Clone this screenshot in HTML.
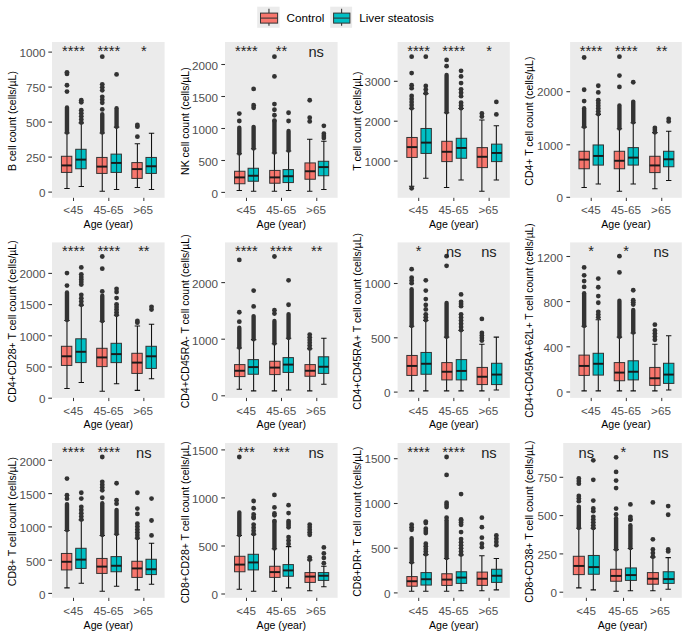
<!DOCTYPE html>
<html><head><meta charset="utf-8"><title>Lymphocyte subsets by age and liver steatosis</title>
<style>html,body{margin:0;padding:0;background:#fff}svg{display:block}</style></head>
<body>
<svg width="685" height="637" viewBox="0 0 685 637" font-family="'Liberation Sans', sans-serif">
<rect width="685" height="637" fill="#fff"/>
<g>
<rect x="257.2" y="6.7" width="22.4" height="21.1" fill="#EBEBEB"/>
<path d="M268.95 8.8V13.1M268.95 23.1V25.8" stroke="#333" stroke-width="1.07" fill="none"/>
<rect x="260.5" y="13.1" width="17.1" height="10" fill="#F8766D" stroke="#333" stroke-width="1"/>
<path d="M260.5 18.1H277.6" stroke="#333" stroke-width="1.07"/>
<text x="286.6" y="22.3" font-size="11.7" fill="#000">Control</text>
<rect x="330.2" y="6.7" width="21.9" height="21.1" fill="#EBEBEB"/>
<path d="M341.6 8.8V13.1M341.6 23.1V25.8" stroke="#333" stroke-width="1.07" fill="none"/>
<rect x="333.6" y="13.1" width="16.3" height="10" fill="#00BFC4" stroke="#333" stroke-width="1"/>
<path d="M333.6 18.1H349.9" stroke="#333" stroke-width="1.07"/>
<text x="359.2" y="22.3" font-size="11.7" fill="#000">Liver steatosis</text>
</g>
<g>
<rect x="52" y="42" width="112.6" height="155.8" fill="#EBEBEB"/>
<path d="M48.3 52.1H52" stroke="#333" stroke-width="1.07"/>
<text x="45.5" y="57.1" font-size="11.7" fill="#505050" text-anchor="end">1000</text>
<path d="M48.3 87.1H52" stroke="#333" stroke-width="1.07"/>
<text x="45.5" y="92.1" font-size="11.7" fill="#505050" text-anchor="end">750</text>
<path d="M48.3 122.1H52" stroke="#333" stroke-width="1.07"/>
<text x="45.5" y="127.1" font-size="11.7" fill="#505050" text-anchor="end">500</text>
<path d="M48.3 157.1H52" stroke="#333" stroke-width="1.07"/>
<text x="45.5" y="162.1" font-size="11.7" fill="#505050" text-anchor="end">250</text>
<path d="M48.3 192.1H52" stroke="#333" stroke-width="1.07"/>
<text x="45.5" y="197.1" font-size="11.7" fill="#505050" text-anchor="end">0</text>
<path d="M73.53 197.8V201" stroke="#333" stroke-width="1"/>
<text x="73.23" y="214.4" font-size="11.7" fill="#505050" text-anchor="middle">&lt;45</text>
<path d="M108.82 197.8V201" stroke="#333" stroke-width="1"/>
<text x="108.52" y="214.4" font-size="11.7" fill="#505050" text-anchor="middle">45-65</text>
<path d="M143.85 197.8V201" stroke="#333" stroke-width="1"/>
<text x="143.05" y="214.4" font-size="11.7" fill="#505050" text-anchor="middle">&gt;65</text>
<text x="108.3" y="228" font-size="10.6" fill="#000" text-anchor="middle">Age (year)</text>
<text transform="translate(16.2 121.1) rotate(-90)" font-size="10.5" fill="#000" text-anchor="middle">B cell count (cells/µL)</text>
<path d="M66.98 132.98V188.56M64.28 132.98H69.68M64.28 188.56H69.68" stroke="#111" stroke-width="1.07" fill="none"/>
<path d="M66.98 107.44V132.58" stroke="#333333" stroke-width="4.4" stroke-linecap="round"/>
<circle cx="66.98" cy="91.59" r="2.4" fill="#333333"/>
<circle cx="66.98" cy="85.27" r="2.4" fill="#333333"/>
<circle cx="66.98" cy="73.95" r="2.4" fill="#333333"/>
<circle cx="66.98" cy="72.29" r="2.4" fill="#333333"/>
<rect x="61.42" y="156.28" width="10.4" height="16.14" fill="#F8766D" stroke="#333" stroke-width="1"/>
<path d="M66.98 156.28V172.42" stroke="#000" stroke-opacity="0.6" stroke-width="1.07"/>
<path d="M61.42 165.43H71.82" stroke="#1a1a1a" stroke-width="1.95"/>
<path d="M81.29 122.99V186.57M78.59 122.99H83.99M78.59 186.57H83.99" stroke="#111" stroke-width="1.07" fill="none"/>
<circle cx="81.29" cy="110.14" r="2.4" fill="#333333"/>
<circle cx="81.29" cy="113.25" r="2.4" fill="#333333"/>
<circle cx="81.29" cy="116.36" r="2.4" fill="#333333"/>
<circle cx="81.29" cy="119.48" r="2.4" fill="#333333"/>
<circle cx="81.29" cy="122.59" r="2.4" fill="#333333"/>
<circle cx="81.29" cy="100.25" r="2.4" fill="#333333"/>
<circle cx="81.29" cy="102.25" r="2.4" fill="#333333"/>
<rect x="75.73" y="149.29" width="10.4" height="19.47" fill="#00BFC4" stroke="#333" stroke-width="1"/>
<path d="M81.29 149.29V168.76" stroke="#000" stroke-opacity="0.6" stroke-width="1.07"/>
<path d="M75.73 159.61H86.13" stroke="#1a1a1a" stroke-width="1.95"/>
<path d="M102.26 132.98V191.23M99.56 132.98H104.96M99.56 191.23H104.96" stroke="#111" stroke-width="1.07" fill="none"/>
<path d="M102.26 114.1V132.58" stroke="#333333" stroke-width="4.4" stroke-linecap="round"/>
<circle cx="102.26" cy="96.82" r="2.4" fill="#333333"/>
<circle cx="102.26" cy="99.83" r="2.4" fill="#333333"/>
<circle cx="102.26" cy="102.84" r="2.4" fill="#333333"/>
<circle cx="102.26" cy="84.34" r="2.4" fill="#333333"/>
<circle cx="102.26" cy="87.35" r="2.4" fill="#333333"/>
<circle cx="102.26" cy="90.36" r="2.4" fill="#333333"/>
<circle cx="102.26" cy="109.4" r="2.4" fill="#333333"/>
<circle cx="102.26" cy="56.65" r="2.4" fill="#333333"/>
<rect x="96.7" y="157.44" width="10.4" height="15.98" fill="#F8766D" stroke="#333" stroke-width="1"/>
<path d="M102.26 157.44V173.42" stroke="#000" stroke-opacity="0.6" stroke-width="1.07"/>
<path d="M96.7 166.6H107.1" stroke="#1a1a1a" stroke-width="1.95"/>
<path d="M116.57 127.15V189.56M113.87 127.15H119.27M113.87 189.56H119.27" stroke="#111" stroke-width="1.07" fill="none"/>
<path d="M116.57 108.27V126.75" stroke="#333333" stroke-width="4.4" stroke-linecap="round"/>
<circle cx="116.57" cy="74.45" r="2.4" fill="#333333"/>
<rect x="111.01" y="154.11" width="10.4" height="18.31" fill="#00BFC4" stroke="#333" stroke-width="1"/>
<path d="M116.57 154.11V172.42" stroke="#000" stroke-opacity="0.6" stroke-width="1.07"/>
<path d="M111.01 162.93H121.41" stroke="#1a1a1a" stroke-width="1.95"/>
<path d="M137.38 143.8V187.56M134.68 143.8H140.08M134.68 187.56H140.08" stroke="#111" stroke-width="1.07" fill="none"/>
<circle cx="137.38" cy="136.64" r="2.4" fill="#333333"/>
<circle cx="137.38" cy="126.65" r="2.4" fill="#333333"/>
<circle cx="137.38" cy="124.99" r="2.4" fill="#333333"/>
<rect x="131.82" y="162.6" width="10.4" height="15.81" fill="#F8766D" stroke="#333" stroke-width="1"/>
<path d="M137.38 162.6V178.41" stroke="#000" stroke-opacity="0.6" stroke-width="1.07"/>
<path d="M131.82 169.09H142.22" stroke="#1a1a1a" stroke-width="1.95"/>
<path d="M151.52 133.31V189.56M148.82 133.31H154.22M148.82 189.56H154.22" stroke="#111" stroke-width="1.07" fill="none"/>
<rect x="145.96" y="157.44" width="10.4" height="15.98" fill="#00BFC4" stroke="#333" stroke-width="1"/>
<path d="M151.52 157.44V173.42" stroke="#000" stroke-opacity="0.6" stroke-width="1.07"/>
<path d="M145.96 166.26H156.36" stroke="#1a1a1a" stroke-width="1.95"/>
<text x="73.53" y="55.9" font-size="14.67" fill="#222" text-anchor="middle">****</text>
<text x="108.82" y="55.9" font-size="14.67" fill="#222" text-anchor="middle">****</text>
<text x="143.85" y="55.9" font-size="14.67" fill="#222" text-anchor="middle">*</text>
</g>
<g>
<rect x="225" y="42" width="112.6" height="155.8" fill="#EBEBEB"/>
<path d="M221.3 64.5H225" stroke="#333" stroke-width="1.07"/>
<text x="218" y="69.8" font-size="11.7" fill="#505050" text-anchor="end">2000</text>
<path d="M221.3 96.5H225" stroke="#333" stroke-width="1.07"/>
<text x="218" y="101.8" font-size="11.7" fill="#505050" text-anchor="end">1500</text>
<path d="M221.3 128.5H225" stroke="#333" stroke-width="1.07"/>
<text x="218" y="133.8" font-size="11.7" fill="#505050" text-anchor="end">1000</text>
<path d="M221.3 160.5H225" stroke="#333" stroke-width="1.07"/>
<text x="218" y="165.8" font-size="11.7" fill="#505050" text-anchor="end">500</text>
<path d="M221.3 192.4H225" stroke="#333" stroke-width="1.07"/>
<text x="218" y="197.7" font-size="11.7" fill="#505050" text-anchor="end">0</text>
<path d="M246.47 197.8V201" stroke="#333" stroke-width="1"/>
<text x="246.17" y="214.4" font-size="11.7" fill="#505050" text-anchor="middle">&lt;45</text>
<path d="M281.5 197.8V201" stroke="#333" stroke-width="1"/>
<text x="281.2" y="214.4" font-size="11.7" fill="#505050" text-anchor="middle">45-65</text>
<path d="M316.78 197.8V201" stroke="#333" stroke-width="1"/>
<text x="315.98" y="214.4" font-size="11.7" fill="#505050" text-anchor="middle">&gt;65</text>
<text x="281.3" y="228" font-size="10.6" fill="#000" text-anchor="middle">Age (year)</text>
<text transform="translate(188.8 121.1) rotate(-90)" font-size="10.5" fill="#000" text-anchor="middle">NK cell count (cells/µL)</text>
<path d="M239.31 153.78V190.56M236.61 153.78H242.01M236.61 190.56H242.01" stroke="#111" stroke-width="1.07" fill="none"/>
<path d="M239.31 127.69V153.38" stroke="#333333" stroke-width="4.4" stroke-linecap="round"/>
<circle cx="239.31" cy="121" r="2.4" fill="#333333"/>
<circle cx="239.31" cy="113.56" r="2.4" fill="#333333"/>
<rect x="234.56" y="171.26" width="10.4" height="12.48" fill="#F8766D" stroke="#333" stroke-width="1"/>
<path d="M239.31 171.26V183.74" stroke="#000" stroke-opacity="0.6" stroke-width="1.07"/>
<path d="M234.56 177.41H244.96" stroke="#1a1a1a" stroke-width="1.95"/>
<path d="M253.62 148.79V191.23M250.92 148.79H256.32M250.92 191.23H256.32" stroke="#111" stroke-width="1.07" fill="none"/>
<path d="M253.62 126.86V148.39" stroke="#333333" stroke-width="4.4" stroke-linecap="round"/>
<circle cx="253.62" cy="105.24" r="2.4" fill="#333333"/>
<circle cx="253.62" cy="107.74" r="2.4" fill="#333333"/>
<circle cx="253.62" cy="88.93" r="2.4" fill="#333333"/>
<rect x="248.07" y="168.26" width="10.4" height="12.98" fill="#00BFC4" stroke="#333" stroke-width="1"/>
<path d="M253.62 168.26V181.24" stroke="#000" stroke-opacity="0.6" stroke-width="1.07"/>
<path d="M248.07 175.75H258.47" stroke="#1a1a1a" stroke-width="1.95"/>
<path d="M274.43 152.95V191.23M271.73 152.95H277.13M271.73 191.23H277.13" stroke="#111" stroke-width="1.07" fill="none"/>
<path d="M274.43 121.53V152.55" stroke="#333333" stroke-width="4.4" stroke-linecap="round"/>
<circle cx="274.43" cy="120.55" r="2.4" fill="#333333"/>
<circle cx="274.43" cy="115.23" r="2.4" fill="#333333"/>
<circle cx="274.43" cy="109.73" r="2.4" fill="#333333"/>
<circle cx="274.43" cy="104.08" r="2.4" fill="#333333"/>
<circle cx="274.43" cy="76.45" r="2.4" fill="#333333"/>
<circle cx="274.43" cy="56.65" r="2.4" fill="#333333"/>
<rect x="269.68" y="170.42" width="10.4" height="12.81" fill="#F8766D" stroke="#333" stroke-width="1"/>
<path d="M274.43 170.42V183.24" stroke="#000" stroke-opacity="0.6" stroke-width="1.07"/>
<path d="M269.68 177.41H280.08" stroke="#1a1a1a" stroke-width="1.95"/>
<path d="M288.57 150.95V190.56M285.87 150.95H291.27M285.87 190.56H291.27" stroke="#111" stroke-width="1.07" fill="none"/>
<path d="M288.57 131.02V150.55" stroke="#333333" stroke-width="4.4" stroke-linecap="round"/>
<circle cx="288.57" cy="121" r="2.4" fill="#333333"/>
<circle cx="288.57" cy="112.73" r="2.4" fill="#333333"/>
<rect x="283.02" y="169.59" width="10.4" height="12.98" fill="#00BFC4" stroke="#333" stroke-width="1"/>
<path d="M288.57 169.59V182.57" stroke="#000" stroke-opacity="0.6" stroke-width="1.07"/>
<path d="M283.02 176.25H293.42" stroke="#1a1a1a" stroke-width="1.95"/>
<path d="M309.71 139.3V191.23M307.01 139.3H312.41M307.01 191.23H312.41" stroke="#111" stroke-width="1.07" fill="none"/>
<circle cx="309.71" cy="117.63" r="2.4" fill="#333333"/>
<circle cx="309.71" cy="121.42" r="2.4" fill="#333333"/>
<circle cx="309.71" cy="100.25" r="2.4" fill="#333333"/>
<rect x="304.96" y="162.93" width="10.4" height="16.31" fill="#F8766D" stroke="#333" stroke-width="1"/>
<path d="M309.71 162.93V179.24" stroke="#000" stroke-opacity="0.6" stroke-width="1.07"/>
<path d="M304.96 171.26H315.36" stroke="#1a1a1a" stroke-width="1.95"/>
<path d="M323.85 141.3V189.56M321.15 141.3H326.55M321.15 189.56H326.55" stroke="#111" stroke-width="1.07" fill="none"/>
<circle cx="323.85" cy="133.71" r="2.4" fill="#333333"/>
<circle cx="323.85" cy="135.89" r="2.4" fill="#333333"/>
<circle cx="323.85" cy="138.07" r="2.4" fill="#333333"/>
<circle cx="323.85" cy="125.82" r="2.4" fill="#333333"/>
<rect x="318.3" y="161.27" width="10.4" height="14.48" fill="#00BFC4" stroke="#333" stroke-width="1"/>
<path d="M323.85 161.27V175.75" stroke="#000" stroke-opacity="0.6" stroke-width="1.07"/>
<path d="M318.3 167.09H328.7" stroke="#1a1a1a" stroke-width="1.95"/>
<text x="246.37" y="55.9" font-size="14.67" fill="#222" text-anchor="middle">****</text>
<text x="281.4" y="55.9" font-size="14.67" fill="#222" text-anchor="middle">**</text>
<text x="316.18" y="56.8" font-size="14.67" fill="#222" text-anchor="middle">ns</text>
</g>
<g>
<rect x="397.6" y="42" width="112.2" height="155.8" fill="#EBEBEB"/>
<path d="M393.9 81.3H397.6" stroke="#333" stroke-width="1.07"/>
<text x="390.5" y="85.7" font-size="11.7" fill="#505050" text-anchor="end">3000</text>
<path d="M393.9 121.2H397.6" stroke="#333" stroke-width="1.07"/>
<text x="390.5" y="125.6" font-size="11.7" fill="#505050" text-anchor="end">2000</text>
<path d="M393.9 161.1H397.6" stroke="#333" stroke-width="1.07"/>
<text x="390.5" y="165.5" font-size="11.7" fill="#505050" text-anchor="end">1000</text>
<path d="M418.72 197.8V201" stroke="#333" stroke-width="1"/>
<text x="418.42" y="214.4" font-size="11.7" fill="#505050" text-anchor="middle">&lt;45</text>
<path d="M453.83 197.8V201" stroke="#333" stroke-width="1"/>
<text x="453.53" y="214.4" font-size="11.7" fill="#505050" text-anchor="middle">45-65</text>
<path d="M489.12 197.8V201" stroke="#333" stroke-width="1"/>
<text x="488.32" y="214.4" font-size="11.7" fill="#505050" text-anchor="middle">&gt;65</text>
<text x="453.7" y="228" font-size="10.6" fill="#000" text-anchor="middle">Age (year)</text>
<text transform="translate(361.3 121.1) rotate(-90)" font-size="10.5" fill="#000" text-anchor="middle">T cell count (cells/µL)</text>
<path d="M411.65 108.57V186.23M408.95 108.57H414.35M408.95 186.23H414.35" stroke="#111" stroke-width="1.07" fill="none"/>
<circle cx="411.65" cy="95.99" r="2.4" fill="#333333"/>
<circle cx="411.65" cy="99.04" r="2.4" fill="#333333"/>
<circle cx="411.65" cy="102.08" r="2.4" fill="#333333"/>
<circle cx="411.65" cy="105.12" r="2.4" fill="#333333"/>
<circle cx="411.65" cy="108.17" r="2.4" fill="#333333"/>
<circle cx="411.65" cy="85.17" r="2.4" fill="#333333"/>
<circle cx="411.65" cy="88.2" r="2.4" fill="#333333"/>
<circle cx="411.65" cy="73.12" r="2.4" fill="#333333"/>
<circle cx="411.65" cy="56.65" r="2.4" fill="#333333"/>
<circle cx="411.65" cy="188.23" r="2.4" fill="#333333"/>
<rect x="406.82" y="137.47" width="10.4" height="19.97" fill="#F8766D" stroke="#333" stroke-width="1"/>
<path d="M411.65 137.47V157.44" stroke="#000" stroke-opacity="0.6" stroke-width="1.07"/>
<path d="M406.82 147.12H417.22" stroke="#1a1a1a" stroke-width="1.95"/>
<path d="M425.79 93.59V178.25M423.09 93.59H428.49M423.09 178.25H428.49" stroke="#111" stroke-width="1.07" fill="none"/>
<circle cx="425.79" cy="86.01" r="2.4" fill="#333333"/>
<circle cx="425.79" cy="89.6" r="2.4" fill="#333333"/>
<circle cx="425.79" cy="93.19" r="2.4" fill="#333333"/>
<circle cx="425.79" cy="56.65" r="2.4" fill="#333333"/>
<rect x="420.96" y="128.48" width="10.4" height="24.96" fill="#00BFC4" stroke="#333" stroke-width="1"/>
<path d="M425.79 128.48V153.45" stroke="#000" stroke-opacity="0.6" stroke-width="1.07"/>
<path d="M420.96 142.63H431.36" stroke="#1a1a1a" stroke-width="1.95"/>
<path d="M446.59 112.73V187.56M443.89 112.73H449.29M443.89 187.56H449.29" stroke="#111" stroke-width="1.07" fill="none"/>
<path d="M446.59 74.99V112.33" stroke="#333333" stroke-width="4.4" stroke-linecap="round"/>
<circle cx="446.59" cy="66.13" r="2.4" fill="#333333"/>
<circle cx="446.59" cy="59.97" r="2.4" fill="#333333"/>
<rect x="441.76" y="141.3" width="10.4" height="20.3" fill="#F8766D" stroke="#333" stroke-width="1"/>
<path d="M446.59 141.3V161.6" stroke="#000" stroke-opacity="0.6" stroke-width="1.07"/>
<path d="M441.76 151.78H452.16" stroke="#1a1a1a" stroke-width="1.95"/>
<path d="M461.07 108.57V180.08M458.37 108.57H463.77M458.37 180.08H463.77" stroke="#111" stroke-width="1.07" fill="none"/>
<circle cx="461.07" cy="102.65" r="2.4" fill="#333333"/>
<circle cx="461.07" cy="105.41" r="2.4" fill="#333333"/>
<circle cx="461.07" cy="108.17" r="2.4" fill="#333333"/>
<circle cx="461.07" cy="89.33" r="2.4" fill="#333333"/>
<circle cx="461.07" cy="92.76" r="2.4" fill="#333333"/>
<circle cx="461.07" cy="96.18" r="2.4" fill="#333333"/>
<circle cx="461.07" cy="83.11" r="2.4" fill="#333333"/>
<circle cx="461.07" cy="76.45" r="2.4" fill="#333333"/>
<circle cx="461.07" cy="70.79" r="2.4" fill="#333333"/>
<rect x="456.24" y="138.3" width="10.4" height="19.97" fill="#00BFC4" stroke="#333" stroke-width="1"/>
<path d="M461.07 138.3V158.27" stroke="#000" stroke-opacity="0.6" stroke-width="1.07"/>
<path d="M456.24 147.96H466.64" stroke="#1a1a1a" stroke-width="1.95"/>
<path d="M481.88 120V191.23M479.18 120H484.58M479.18 191.23H484.58" stroke="#111" stroke-width="1.07" fill="none"/>
<circle cx="481.88" cy="113.47" r="2.4" fill="#333333"/>
<circle cx="481.88" cy="116.49" r="2.4" fill="#333333"/>
<rect x="477.05" y="147.62" width="10.4" height="19.97" fill="#F8766D" stroke="#333" stroke-width="1"/>
<path d="M481.88 147.62V167.59" stroke="#000" stroke-opacity="0.6" stroke-width="1.07"/>
<path d="M477.05 156.78H487.45" stroke="#1a1a1a" stroke-width="1.95"/>
<path d="M496.35 125.82V180.08M493.65 125.82H499.05M493.65 180.08H499.05" stroke="#111" stroke-width="1.07" fill="none"/>
<circle cx="496.35" cy="114.39" r="2.4" fill="#333333"/>
<circle cx="496.35" cy="101.91" r="2.4" fill="#333333"/>
<rect x="491.52" y="144.13" width="10.4" height="17.47" fill="#00BFC4" stroke="#333" stroke-width="1"/>
<path d="M496.35 144.13V161.6" stroke="#000" stroke-opacity="0.6" stroke-width="1.07"/>
<path d="M491.52 152.95H501.92" stroke="#1a1a1a" stroke-width="1.95"/>
<text x="418.62" y="55.9" font-size="14.67" fill="#222" text-anchor="middle">****</text>
<text x="453.73" y="55.9" font-size="14.67" fill="#222" text-anchor="middle">****</text>
<text x="489.02" y="55.9" font-size="14.67" fill="#222" text-anchor="middle">*</text>
</g>
<g>
<rect x="570.1" y="42" width="111.7" height="155.8" fill="#EBEBEB"/>
<path d="M566.4 91.7H570.1" stroke="#333" stroke-width="1.07"/>
<text x="563" y="96.45" font-size="11.7" fill="#505050" text-anchor="end">2000</text>
<path d="M566.4 144.8H570.1" stroke="#333" stroke-width="1.07"/>
<text x="563" y="149.55" font-size="11.7" fill="#505050" text-anchor="end">1000</text>
<path d="M566.4 197.3H570.1" stroke="#333" stroke-width="1.07"/>
<text x="563" y="202.05" font-size="11.7" fill="#505050" text-anchor="end">0</text>
<path d="M591.22 197.8V201" stroke="#333" stroke-width="1"/>
<text x="590.92" y="214.4" font-size="11.7" fill="#505050" text-anchor="middle">&lt;45</text>
<path d="M626.33 197.8V201" stroke="#333" stroke-width="1"/>
<text x="626.03" y="214.4" font-size="11.7" fill="#505050" text-anchor="middle">45-65</text>
<path d="M661.78 197.8V201" stroke="#333" stroke-width="1"/>
<text x="660.98" y="214.4" font-size="11.7" fill="#505050" text-anchor="middle">&gt;65</text>
<text x="625.95" y="228" font-size="10.6" fill="#000" text-anchor="middle">Age (year)</text>
<text transform="translate(533.2 121.1) rotate(-90)" font-size="10.5" fill="#000" text-anchor="middle">CD4+ T cell count (cells/µL)</text>
<path d="M584.15 127.15V187.56M581.45 127.15H586.85M581.45 187.56H586.85" stroke="#111" stroke-width="1.07" fill="none"/>
<path d="M584.15 108.27V126.75" stroke="#333333" stroke-width="4.4" stroke-linecap="round"/>
<circle cx="584.15" cy="101.08" r="2.4" fill="#333333"/>
<circle cx="584.15" cy="89.76" r="2.4" fill="#333333"/>
<circle cx="584.15" cy="57.48" r="2.4" fill="#333333"/>
<rect x="578.95" y="151.28" width="10.4" height="17.47" fill="#F8766D" stroke="#333" stroke-width="1"/>
<path d="M584.15 151.28V168.76" stroke="#000" stroke-opacity="0.6" stroke-width="1.07"/>
<path d="M578.95 159.61H589.35" stroke="#1a1a1a" stroke-width="1.95"/>
<path d="M598.29 114.39V184.07M595.59 114.39H600.99M595.59 184.07H600.99" stroke="#111" stroke-width="1.07" fill="none"/>
<circle cx="598.29" cy="100.15" r="2.4" fill="#333333"/>
<circle cx="598.29" cy="102.92" r="2.4" fill="#333333"/>
<circle cx="598.29" cy="105.69" r="2.4" fill="#333333"/>
<circle cx="598.29" cy="108.46" r="2.4" fill="#333333"/>
<circle cx="598.29" cy="111.23" r="2.4" fill="#333333"/>
<circle cx="598.29" cy="113.99" r="2.4" fill="#333333"/>
<circle cx="598.29" cy="92.43" r="2.4" fill="#333333"/>
<circle cx="598.29" cy="85.77" r="2.4" fill="#333333"/>
<rect x="593.09" y="144.96" width="10.4" height="20.14" fill="#00BFC4" stroke="#333" stroke-width="1"/>
<path d="M598.29 144.96V165.1" stroke="#000" stroke-opacity="0.6" stroke-width="1.07"/>
<path d="M593.09 155.94H603.49" stroke="#1a1a1a" stroke-width="1.95"/>
<path d="M619.43 128.82V191.23M616.73 128.82H622.13M616.73 191.23H622.13" stroke="#111" stroke-width="1.07" fill="none"/>
<path d="M619.43 105.44V128.42" stroke="#333333" stroke-width="4.4" stroke-linecap="round"/>
<circle cx="619.43" cy="86.93" r="2.4" fill="#333333"/>
<circle cx="619.43" cy="75.62" r="2.4" fill="#333333"/>
<circle cx="619.43" cy="56.65" r="2.4" fill="#333333"/>
<rect x="614.23" y="151.28" width="10.4" height="17.47" fill="#F8766D" stroke="#333" stroke-width="1"/>
<path d="M619.43 151.28V168.76" stroke="#000" stroke-opacity="0.6" stroke-width="1.07"/>
<path d="M614.23 160.77H624.63" stroke="#1a1a1a" stroke-width="1.95"/>
<path d="M633.24 122.66V184.07M630.54 122.66H635.94M630.54 184.07H635.94" stroke="#111" stroke-width="1.07" fill="none"/>
<path d="M633.24 101.62V122.26" stroke="#333333" stroke-width="4.4" stroke-linecap="round"/>
<circle cx="633.24" cy="82.27" r="2.4" fill="#333333"/>
<rect x="628.04" y="147.62" width="10.4" height="17.47" fill="#00BFC4" stroke="#333" stroke-width="1"/>
<path d="M633.24 147.62V165.1" stroke="#000" stroke-opacity="0.6" stroke-width="1.07"/>
<path d="M628.04 157.61H638.44" stroke="#1a1a1a" stroke-width="1.95"/>
<path d="M654.88 132.65V188.73M652.18 132.65H657.58M652.18 188.73H657.58" stroke="#111" stroke-width="1.07" fill="none"/>
<circle cx="654.88" cy="127.89" r="2.4" fill="#333333"/>
<circle cx="654.88" cy="130.07" r="2.4" fill="#333333"/>
<circle cx="654.88" cy="132.25" r="2.4" fill="#333333"/>
<rect x="649.68" y="156.28" width="10.4" height="16.31" fill="#F8766D" stroke="#333" stroke-width="1"/>
<path d="M654.88 156.28V172.59" stroke="#000" stroke-opacity="0.6" stroke-width="1.07"/>
<path d="M649.68 165.43H660.08" stroke="#1a1a1a" stroke-width="1.95"/>
<path d="M668.69 131.31V180.41M665.99 131.31H671.39M665.99 180.41H671.39" stroke="#111" stroke-width="1.07" fill="none"/>
<circle cx="668.69" cy="118.79" r="2.4" fill="#333333"/>
<circle cx="668.69" cy="121.42" r="2.4" fill="#333333"/>
<rect x="663.49" y="151.28" width="10.4" height="15.48" fill="#00BFC4" stroke="#333" stroke-width="1"/>
<path d="M668.69 151.28V166.76" stroke="#000" stroke-opacity="0.6" stroke-width="1.07"/>
<path d="M663.49 159.27H673.89" stroke="#1a1a1a" stroke-width="1.95"/>
<text x="591.12" y="55.9" font-size="14.67" fill="#222" text-anchor="middle">****</text>
<text x="626.23" y="55.9" font-size="14.67" fill="#222" text-anchor="middle">****</text>
<text x="661.68" y="55.9" font-size="14.67" fill="#222" text-anchor="middle">**</text>
</g>
<g>
<rect x="52" y="242.4" width="112.6" height="155.5" fill="#EBEBEB"/>
<path d="M48.3 273.4H52" stroke="#333" stroke-width="1.07"/>
<text x="45.5" y="278.15" font-size="11.7" fill="#505050" text-anchor="end">2000</text>
<path d="M48.3 304.6H52" stroke="#333" stroke-width="1.07"/>
<text x="45.5" y="309.35" font-size="11.7" fill="#505050" text-anchor="end">1500</text>
<path d="M48.3 335.8H52" stroke="#333" stroke-width="1.07"/>
<text x="45.5" y="340.55" font-size="11.7" fill="#505050" text-anchor="end">1000</text>
<path d="M48.3 367H52" stroke="#333" stroke-width="1.07"/>
<text x="45.5" y="371.75" font-size="11.7" fill="#505050" text-anchor="end">500</text>
<path d="M48.3 398.2H52" stroke="#333" stroke-width="1.07"/>
<text x="45.5" y="402.95" font-size="11.7" fill="#505050" text-anchor="end">0</text>
<path d="M73.53 397.9V401.1" stroke="#333" stroke-width="1"/>
<text x="73.23" y="414.5" font-size="11.7" fill="#505050" text-anchor="middle">&lt;45</text>
<path d="M108.82 397.9V401.1" stroke="#333" stroke-width="1"/>
<text x="108.52" y="414.5" font-size="11.7" fill="#505050" text-anchor="middle">45-65</text>
<path d="M143.85 397.9V401.1" stroke="#333" stroke-width="1"/>
<text x="143.05" y="414.5" font-size="11.7" fill="#505050" text-anchor="middle">&gt;65</text>
<text x="108.3" y="428.1" font-size="10.6" fill="#000" text-anchor="middle">Age (year)</text>
<text transform="translate(16.2 321.35) rotate(-90)" font-size="10.5" fill="#000" text-anchor="middle">CD4+CD28+ T cell count (cells/µL)</text>
<path d="M66.98 320.5V388.56M64.28 320.5H69.68M64.28 388.56H69.68" stroke="#111" stroke-width="1.07" fill="none"/>
<path d="M66.98 292.46V320.1" stroke="#333333" stroke-width="4.4" stroke-linecap="round"/>
<circle cx="66.98" cy="285.6" r="2.4" fill="#333333"/>
<circle cx="66.98" cy="273.12" r="2.4" fill="#333333"/>
<rect x="61.42" y="346.29" width="10.4" height="19.14" fill="#F8766D" stroke="#333" stroke-width="1"/>
<path d="M66.98 346.29V365.43" stroke="#000" stroke-opacity="0.6" stroke-width="1.07"/>
<path d="M61.42 356.28H71.82" stroke="#1a1a1a" stroke-width="1.95"/>
<path d="M81.29 305.24V382.41M78.59 305.24H83.99M78.59 382.41H83.99" stroke="#111" stroke-width="1.07" fill="none"/>
<circle cx="81.29" cy="294.83" r="2.4" fill="#333333"/>
<circle cx="81.29" cy="298.16" r="2.4" fill="#333333"/>
<circle cx="81.29" cy="301.5" r="2.4" fill="#333333"/>
<circle cx="81.29" cy="304.84" r="2.4" fill="#333333"/>
<circle cx="81.29" cy="274.36" r="2.4" fill="#333333"/>
<circle cx="81.29" cy="276.9" r="2.4" fill="#333333"/>
<circle cx="81.29" cy="279.45" r="2.4" fill="#333333"/>
<circle cx="81.29" cy="281.99" r="2.4" fill="#333333"/>
<circle cx="81.29" cy="284.53" r="2.4" fill="#333333"/>
<circle cx="81.29" cy="267.46" r="2.4" fill="#333333"/>
<rect x="75.73" y="338.8" width="10.4" height="23.8" fill="#00BFC4" stroke="#333" stroke-width="1"/>
<path d="M81.29 338.8V362.6" stroke="#000" stroke-opacity="0.6" stroke-width="1.07"/>
<path d="M75.73 351.78H86.13" stroke="#1a1a1a" stroke-width="1.95"/>
<path d="M102.26 321.33V391.23M99.56 321.33H104.96M99.56 391.23H104.96" stroke="#111" stroke-width="1.07" fill="none"/>
<path d="M102.26 295.79V320.93" stroke="#333333" stroke-width="4.4" stroke-linecap="round"/>
<circle cx="102.26" cy="291.43" r="2.4" fill="#333333"/>
<circle cx="102.26" cy="268.63" r="2.4" fill="#333333"/>
<circle cx="102.26" cy="256.48" r="2.4" fill="#333333"/>
<rect x="96.7" y="348.29" width="10.4" height="18.31" fill="#F8766D" stroke="#333" stroke-width="1"/>
<path d="M102.26 348.29V366.6" stroke="#000" stroke-opacity="0.6" stroke-width="1.07"/>
<path d="M96.7 357.44H107.1" stroke="#1a1a1a" stroke-width="1.95"/>
<path d="M116.57 315.23V383.74M113.87 315.23H119.27M113.87 383.74H119.27" stroke="#111" stroke-width="1.07" fill="none"/>
<circle cx="116.57" cy="304.31" r="2.4" fill="#333333"/>
<circle cx="116.57" cy="306.94" r="2.4" fill="#333333"/>
<circle cx="116.57" cy="309.57" r="2.4" fill="#333333"/>
<circle cx="116.57" cy="312.2" r="2.4" fill="#333333"/>
<circle cx="116.57" cy="314.83" r="2.4" fill="#333333"/>
<circle cx="116.57" cy="288.84" r="2.4" fill="#333333"/>
<circle cx="116.57" cy="292.02" r="2.4" fill="#333333"/>
<circle cx="116.57" cy="298.08" r="2.4" fill="#333333"/>
<rect x="111.01" y="343.3" width="10.4" height="19.31" fill="#00BFC4" stroke="#333" stroke-width="1"/>
<path d="M116.57 343.3V362.6" stroke="#000" stroke-opacity="0.6" stroke-width="1.07"/>
<path d="M111.01 354.11H121.41" stroke="#1a1a1a" stroke-width="1.95"/>
<path d="M137.38 325.99V390.39M134.68 325.99H140.08M134.68 390.39H140.08" stroke="#111" stroke-width="1.07" fill="none"/>
<circle cx="137.38" cy="321" r="2.4" fill="#333333"/>
<circle cx="137.38" cy="322.66" r="2.4" fill="#333333"/>
<rect x="131.82" y="353.28" width="10.4" height="20.14" fill="#F8766D" stroke="#333" stroke-width="1"/>
<path d="M137.38 353.28V373.42" stroke="#000" stroke-opacity="0.6" stroke-width="1.07"/>
<path d="M131.82 362.6H142.22" stroke="#1a1a1a" stroke-width="1.95"/>
<path d="M151.52 324.32V378.74M148.82 324.32H154.22M148.82 378.74H154.22" stroke="#111" stroke-width="1.07" fill="none"/>
<circle cx="151.52" cy="306.81" r="2.4" fill="#333333"/>
<circle cx="151.52" cy="309.5" r="2.4" fill="#333333"/>
<rect x="145.96" y="346.29" width="10.4" height="22.13" fill="#00BFC4" stroke="#333" stroke-width="1"/>
<path d="M151.52 346.29V368.43" stroke="#000" stroke-opacity="0.6" stroke-width="1.07"/>
<path d="M145.96 356.28H156.36" stroke="#1a1a1a" stroke-width="1.95"/>
<text x="73.53" y="255.5" font-size="14.67" fill="#222" text-anchor="middle">****</text>
<text x="108.82" y="255.5" font-size="14.67" fill="#222" text-anchor="middle">****</text>
<text x="143.85" y="255.5" font-size="14.67" fill="#222" text-anchor="middle">**</text>
</g>
<g>
<rect x="225" y="242.4" width="112.6" height="155.5" fill="#EBEBEB"/>
<path d="M221.3 282.6H225" stroke="#333" stroke-width="1.07"/>
<text x="218" y="287.95" font-size="11.7" fill="#505050" text-anchor="end">2000</text>
<path d="M221.3 339.2H225" stroke="#333" stroke-width="1.07"/>
<text x="218" y="344.55" font-size="11.7" fill="#505050" text-anchor="end">1000</text>
<path d="M221.3 395.8H225" stroke="#333" stroke-width="1.07"/>
<text x="218" y="401.15" font-size="11.7" fill="#505050" text-anchor="end">0</text>
<path d="M246.47 397.9V401.1" stroke="#333" stroke-width="1"/>
<text x="246.17" y="414.5" font-size="11.7" fill="#505050" text-anchor="middle">&lt;45</text>
<path d="M281.5 397.9V401.1" stroke="#333" stroke-width="1"/>
<text x="281.2" y="414.5" font-size="11.7" fill="#505050" text-anchor="middle">45-65</text>
<path d="M316.78 397.9V401.1" stroke="#333" stroke-width="1"/>
<text x="315.98" y="414.5" font-size="11.7" fill="#505050" text-anchor="middle">&gt;65</text>
<text x="281.3" y="428.1" font-size="10.6" fill="#000" text-anchor="middle">Age (year)</text>
<text transform="translate(188.8 321.35) rotate(-90)" font-size="10.5" fill="#000" text-anchor="middle">CD4+CD45RA- T cell count (cells/µL)</text>
<path d="M239.31 347.96V389.23M236.61 347.96H242.01M236.61 389.23H242.01" stroke="#111" stroke-width="1.07" fill="none"/>
<path d="M239.31 327.69V347.56" stroke="#333333" stroke-width="4.4" stroke-linecap="round"/>
<circle cx="239.31" cy="321.66" r="2.4" fill="#333333"/>
<circle cx="239.31" cy="312.23" r="2.4" fill="#333333"/>
<circle cx="239.31" cy="259.97" r="2.4" fill="#333333"/>
<rect x="234.56" y="364.6" width="10.4" height="11.98" fill="#F8766D" stroke="#333" stroke-width="1"/>
<path d="M239.31 364.6V376.58" stroke="#000" stroke-opacity="0.6" stroke-width="1.07"/>
<path d="M234.56 370.76H244.96" stroke="#1a1a1a" stroke-width="1.95"/>
<path d="M253.62 339.64V390.89M250.92 339.64H256.32M250.92 390.89H256.32" stroke="#111" stroke-width="1.07" fill="none"/>
<path d="M253.62 316.09V339.24" stroke="#333333" stroke-width="4.4" stroke-linecap="round"/>
<circle cx="253.62" cy="306.41" r="2.4" fill="#333333"/>
<circle cx="253.62" cy="290.6" r="2.4" fill="#333333"/>
<rect x="248.07" y="359.61" width="10.4" height="14.65" fill="#00BFC4" stroke="#333" stroke-width="1"/>
<path d="M253.62 359.61V374.25" stroke="#000" stroke-opacity="0.6" stroke-width="1.07"/>
<path d="M248.07 367.09H258.47" stroke="#1a1a1a" stroke-width="1.95"/>
<path d="M274.43 343.8V390.89M271.73 343.8H277.13M271.73 390.89H277.13" stroke="#111" stroke-width="1.07" fill="none"/>
<path d="M274.43 321.03V343.4" stroke="#333333" stroke-width="4.4" stroke-linecap="round"/>
<circle cx="274.43" cy="310.23" r="2.4" fill="#333333"/>
<circle cx="274.43" cy="313.56" r="2.4" fill="#333333"/>
<circle cx="274.43" cy="256.48" r="2.4" fill="#333333"/>
<rect x="269.68" y="361.27" width="10.4" height="13.31" fill="#F8766D" stroke="#333" stroke-width="1"/>
<path d="M274.43 361.27V374.58" stroke="#000" stroke-opacity="0.6" stroke-width="1.07"/>
<path d="M269.68 367.59H280.08" stroke="#1a1a1a" stroke-width="1.95"/>
<path d="M288.57 338.3V390.06M285.87 338.3H291.27M285.87 390.06H291.27" stroke="#111" stroke-width="1.07" fill="none"/>
<path d="M288.57 314.1V337.9" stroke="#333333" stroke-width="4.4" stroke-linecap="round"/>
<circle cx="288.57" cy="304.74" r="2.4" fill="#333333"/>
<circle cx="288.57" cy="280.28" r="2.4" fill="#333333"/>
<rect x="283.02" y="357.61" width="10.4" height="14.81" fill="#00BFC4" stroke="#333" stroke-width="1"/>
<path d="M288.57 357.61V372.42" stroke="#000" stroke-opacity="0.6" stroke-width="1.07"/>
<path d="M283.02 364.6H293.42" stroke="#1a1a1a" stroke-width="1.95"/>
<path d="M309.71 348.79V390.89M307.01 348.79H312.41M307.01 390.89H312.41" stroke="#111" stroke-width="1.07" fill="none"/>
<circle cx="309.71" cy="334.55" r="2.4" fill="#333333"/>
<circle cx="309.71" cy="337.31" r="2.4" fill="#333333"/>
<circle cx="309.71" cy="340.08" r="2.4" fill="#333333"/>
<circle cx="309.71" cy="342.85" r="2.4" fill="#333333"/>
<circle cx="309.71" cy="345.62" r="2.4" fill="#333333"/>
<circle cx="309.71" cy="348.39" r="2.4" fill="#333333"/>
<rect x="304.96" y="364.6" width="10.4" height="11.65" fill="#F8766D" stroke="#333" stroke-width="1"/>
<path d="M309.71 364.6V376.25" stroke="#000" stroke-opacity="0.6" stroke-width="1.07"/>
<path d="M304.96 370.76H315.36" stroke="#1a1a1a" stroke-width="1.95"/>
<path d="M323.85 338.3V384.24M321.15 338.3H326.55M321.15 384.24H326.55" stroke="#111" stroke-width="1.07" fill="none"/>
<rect x="318.3" y="356.78" width="10.4" height="16.64" fill="#00BFC4" stroke="#333" stroke-width="1"/>
<path d="M323.85 356.78V373.42" stroke="#000" stroke-opacity="0.6" stroke-width="1.07"/>
<path d="M318.3 366.76H328.7" stroke="#1a1a1a" stroke-width="1.95"/>
<text x="246.37" y="255.5" font-size="14.67" fill="#222" text-anchor="middle">****</text>
<text x="281.4" y="255.5" font-size="14.67" fill="#222" text-anchor="middle">****</text>
<text x="316.68" y="255.5" font-size="14.67" fill="#222" text-anchor="middle">**</text>
</g>
<g>
<rect x="397.6" y="242.4" width="112.2" height="155.5" fill="#EBEBEB"/>
<path d="M393.9 283.5H397.6" stroke="#333" stroke-width="1.07"/>
<text x="390.5" y="288.25" font-size="11.7" fill="#505050" text-anchor="end">1000</text>
<path d="M393.9 337.8H397.6" stroke="#333" stroke-width="1.07"/>
<text x="390.5" y="342.55" font-size="11.7" fill="#505050" text-anchor="end">500</text>
<path d="M393.9 392.1H397.6" stroke="#333" stroke-width="1.07"/>
<text x="390.5" y="396.85" font-size="11.7" fill="#505050" text-anchor="end">0</text>
<path d="M418.72 397.9V401.1" stroke="#333" stroke-width="1"/>
<text x="418.42" y="414.5" font-size="11.7" fill="#505050" text-anchor="middle">&lt;45</text>
<path d="M453.83 397.9V401.1" stroke="#333" stroke-width="1"/>
<text x="453.53" y="414.5" font-size="11.7" fill="#505050" text-anchor="middle">45-65</text>
<path d="M489.12 397.9V401.1" stroke="#333" stroke-width="1"/>
<text x="488.32" y="414.5" font-size="11.7" fill="#505050" text-anchor="middle">&gt;65</text>
<text x="453.7" y="428.1" font-size="10.6" fill="#000" text-anchor="middle">Age (year)</text>
<text transform="translate(361.3 321.35) rotate(-90)" font-size="10.5" fill="#000" text-anchor="middle">CD4+CD45RA+ T cell count (cells/µL)</text>
<path d="M411.65 326.32V390.89M408.95 326.32H414.35M408.95 390.89H414.35" stroke="#111" stroke-width="1.07" fill="none"/>
<path d="M411.65 289.13V325.92" stroke="#333333" stroke-width="4.4" stroke-linecap="round"/>
<circle cx="411.65" cy="277.68" r="2.4" fill="#333333"/>
<circle cx="411.65" cy="280.44" r="2.4" fill="#333333"/>
<circle cx="411.65" cy="283.2" r="2.4" fill="#333333"/>
<circle cx="411.65" cy="269.13" r="2.4" fill="#333333"/>
<rect x="406.82" y="355.45" width="10.4" height="19.97" fill="#F8766D" stroke="#333" stroke-width="1"/>
<path d="M411.65 355.45V375.42" stroke="#000" stroke-opacity="0.6" stroke-width="1.07"/>
<path d="M406.82 365.93H417.22" stroke="#1a1a1a" stroke-width="1.95"/>
<path d="M425.79 320.5V390.89M423.09 320.5H428.49M423.09 390.89H428.49" stroke="#111" stroke-width="1.07" fill="none"/>
<circle cx="425.79" cy="314.3" r="2.4" fill="#333333"/>
<circle cx="425.79" cy="317.2" r="2.4" fill="#333333"/>
<circle cx="425.79" cy="320.1" r="2.4" fill="#333333"/>
<circle cx="425.79" cy="309.4" r="2.4" fill="#333333"/>
<circle cx="425.79" cy="304.91" r="2.4" fill="#333333"/>
<circle cx="425.79" cy="299.08" r="2.4" fill="#333333"/>
<circle cx="425.79" cy="290.6" r="2.4" fill="#333333"/>
<circle cx="425.79" cy="280.28" r="2.4" fill="#333333"/>
<rect x="420.96" y="352.45" width="10.4" height="21.8" fill="#00BFC4" stroke="#333" stroke-width="1"/>
<path d="M425.79 352.45V374.25" stroke="#000" stroke-opacity="0.6" stroke-width="1.07"/>
<path d="M420.96 363.77H431.36" stroke="#1a1a1a" stroke-width="1.95"/>
<path d="M446.59 337.14V390.89M443.89 337.14H449.29M443.89 390.89H449.29" stroke="#111" stroke-width="1.07" fill="none"/>
<path d="M446.59 302.95V336.74" stroke="#333333" stroke-width="4.4" stroke-linecap="round"/>
<circle cx="446.59" cy="265.8" r="2.4" fill="#333333"/>
<circle cx="446.59" cy="256.15" r="2.4" fill="#333333"/>
<rect x="441.76" y="362.6" width="10.4" height="17.31" fill="#F8766D" stroke="#333" stroke-width="1"/>
<path d="M446.59 362.6V379.91" stroke="#000" stroke-opacity="0.6" stroke-width="1.07"/>
<path d="M441.76 371.75H452.16" stroke="#1a1a1a" stroke-width="1.95"/>
<path d="M461.07 330.48V390.89M458.37 330.48H463.77M458.37 390.89H463.77" stroke="#111" stroke-width="1.07" fill="none"/>
<circle cx="461.07" cy="314.3" r="2.4" fill="#333333"/>
<circle cx="461.07" cy="317.45" r="2.4" fill="#333333"/>
<circle cx="461.07" cy="320.61" r="2.4" fill="#333333"/>
<circle cx="461.07" cy="323.77" r="2.4" fill="#333333"/>
<circle cx="461.07" cy="326.92" r="2.4" fill="#333333"/>
<circle cx="461.07" cy="330.08" r="2.4" fill="#333333"/>
<circle cx="461.07" cy="301.82" r="2.4" fill="#333333"/>
<circle cx="461.07" cy="303.99" r="2.4" fill="#333333"/>
<circle cx="461.07" cy="306.17" r="2.4" fill="#333333"/>
<circle cx="461.07" cy="294.42" r="2.4" fill="#333333"/>
<rect x="456.24" y="359.61" width="10.4" height="20.3" fill="#00BFC4" stroke="#333" stroke-width="1"/>
<path d="M461.07 359.61V379.91" stroke="#000" stroke-opacity="0.6" stroke-width="1.07"/>
<path d="M456.24 370.92H466.64" stroke="#1a1a1a" stroke-width="1.95"/>
<path d="M481.88 344.29V390.89M479.18 344.29H484.58M479.18 390.89H484.58" stroke="#111" stroke-width="1.07" fill="none"/>
<circle cx="481.88" cy="332.88" r="2.4" fill="#333333"/>
<circle cx="481.88" cy="335.44" r="2.4" fill="#333333"/>
<circle cx="481.88" cy="338" r="2.4" fill="#333333"/>
<circle cx="481.88" cy="340.56" r="2.4" fill="#333333"/>
<circle cx="481.88" cy="318.89" r="2.4" fill="#333333"/>
<rect x="477.05" y="367.43" width="10.4" height="17.14" fill="#F8766D" stroke="#333" stroke-width="1"/>
<path d="M481.88 367.43V384.57" stroke="#000" stroke-opacity="0.6" stroke-width="1.07"/>
<path d="M477.05 376.75H487.45" stroke="#1a1a1a" stroke-width="1.95"/>
<path d="M496.35 337.14V390.06M493.65 337.14H499.05M493.65 390.06H499.05" stroke="#111" stroke-width="1.07" fill="none"/>
<rect x="491.52" y="363.27" width="10.4" height="21.3" fill="#00BFC4" stroke="#333" stroke-width="1"/>
<path d="M496.35 363.27V384.57" stroke="#000" stroke-opacity="0.6" stroke-width="1.07"/>
<path d="M491.52 374.58H501.92" stroke="#1a1a1a" stroke-width="1.95"/>
<text x="418.62" y="255.5" font-size="14.67" fill="#222" text-anchor="middle">*</text>
<text x="453.63" y="257" font-size="14.67" fill="#222" text-anchor="middle">ns</text>
<text x="488.92" y="257" font-size="14.67" fill="#222" text-anchor="middle">ns</text>
</g>
<g>
<rect x="570.1" y="242.4" width="111.7" height="155.5" fill="#EBEBEB"/>
<path d="M566.4 256.5H570.1" stroke="#333" stroke-width="1.07"/>
<text x="563" y="261.85" font-size="11.7" fill="#505050" text-anchor="end">1200</text>
<path d="M566.4 301.6H570.1" stroke="#333" stroke-width="1.07"/>
<text x="563" y="306.95" font-size="11.7" fill="#505050" text-anchor="end">800</text>
<path d="M566.4 346.8H570.1" stroke="#333" stroke-width="1.07"/>
<text x="563" y="352.15" font-size="11.7" fill="#505050" text-anchor="end">400</text>
<path d="M566.4 392H570.1" stroke="#333" stroke-width="1.07"/>
<text x="563" y="397.35" font-size="11.7" fill="#505050" text-anchor="end">0</text>
<path d="M591.22 397.9V401.1" stroke="#333" stroke-width="1"/>
<text x="590.92" y="414.5" font-size="11.7" fill="#505050" text-anchor="middle">&lt;45</text>
<path d="M626.33 397.9V401.1" stroke="#333" stroke-width="1"/>
<text x="626.03" y="414.5" font-size="11.7" fill="#505050" text-anchor="middle">45-65</text>
<path d="M661.78 397.9V401.1" stroke="#333" stroke-width="1"/>
<text x="660.98" y="414.5" font-size="11.7" fill="#505050" text-anchor="middle">&gt;65</text>
<text x="625.95" y="428.1" font-size="10.6" fill="#000" text-anchor="middle">Age (year)</text>
<text transform="translate(533.2 320.55) rotate(-90)" font-size="10.2" fill="#000" text-anchor="middle">CD4+CD45RA+62L+ T cell count (cells/µL)</text>
<path d="M584.15 326.32V390.89M581.45 326.32H586.85M581.45 390.89H586.85" stroke="#111" stroke-width="1.07" fill="none"/>
<path d="M584.15 293.29V325.92" stroke="#333333" stroke-width="4.4" stroke-linecap="round"/>
<circle cx="584.15" cy="286.93" r="2.4" fill="#333333"/>
<circle cx="584.15" cy="281.11" r="2.4" fill="#333333"/>
<circle cx="584.15" cy="275.28" r="2.4" fill="#333333"/>
<circle cx="584.15" cy="267.46" r="2.4" fill="#333333"/>
<rect x="578.95" y="355.11" width="10.4" height="20.3" fill="#F8766D" stroke="#333" stroke-width="1"/>
<path d="M584.15 355.11V375.42" stroke="#000" stroke-opacity="0.6" stroke-width="1.07"/>
<path d="M578.95 365.93H589.35" stroke="#1a1a1a" stroke-width="1.95"/>
<path d="M598.29 319.66V390.89M595.59 319.66H600.99M595.59 390.89H600.99" stroke="#111" stroke-width="1.07" fill="none"/>
<circle cx="598.29" cy="311.8" r="2.4" fill="#333333"/>
<circle cx="598.29" cy="314.56" r="2.4" fill="#333333"/>
<circle cx="598.29" cy="317.32" r="2.4" fill="#333333"/>
<circle cx="598.29" cy="302.74" r="2.4" fill="#333333"/>
<circle cx="598.29" cy="296.09" r="2.4" fill="#333333"/>
<circle cx="598.29" cy="287.27" r="2.4" fill="#333333"/>
<circle cx="598.29" cy="278.61" r="2.4" fill="#333333"/>
<rect x="593.09" y="353.28" width="10.4" height="21.8" fill="#00BFC4" stroke="#333" stroke-width="1"/>
<path d="M598.29 353.28V375.08" stroke="#000" stroke-opacity="0.6" stroke-width="1.07"/>
<path d="M593.09 363.77H603.49" stroke="#1a1a1a" stroke-width="1.95"/>
<path d="M619.43 337.14V390.89M616.73 337.14H622.13M616.73 390.89H622.13" stroke="#111" stroke-width="1.07" fill="none"/>
<path d="M619.43 300.78V336.74" stroke="#333333" stroke-width="4.4" stroke-linecap="round"/>
<circle cx="619.43" cy="272.46" r="2.4" fill="#333333"/>
<circle cx="619.43" cy="256.15" r="2.4" fill="#333333"/>
<rect x="614.23" y="362.6" width="10.4" height="18.14" fill="#F8766D" stroke="#333" stroke-width="1"/>
<path d="M619.43 362.6V380.74" stroke="#000" stroke-opacity="0.6" stroke-width="1.07"/>
<path d="M614.23 372.59H624.63" stroke="#1a1a1a" stroke-width="1.95"/>
<path d="M633.24 332.98V390.89M630.54 332.98H635.94M630.54 390.89H635.94" stroke="#111" stroke-width="1.07" fill="none"/>
<path d="M633.24 309.94V332.58" stroke="#333333" stroke-width="4.4" stroke-linecap="round"/>
<circle cx="633.24" cy="300.15" r="2.4" fill="#333333"/>
<circle cx="633.24" cy="302.33" r="2.4" fill="#333333"/>
<circle cx="633.24" cy="304.51" r="2.4" fill="#333333"/>
<circle cx="633.24" cy="290.26" r="2.4" fill="#333333"/>
<rect x="628.04" y="360.77" width="10.4" height="19.14" fill="#00BFC4" stroke="#333" stroke-width="1"/>
<path d="M633.24 360.77V379.91" stroke="#000" stroke-opacity="0.6" stroke-width="1.07"/>
<path d="M628.04 371.75H638.44" stroke="#1a1a1a" stroke-width="1.95"/>
<path d="M654.88 344.29V390.89M652.18 344.29H657.58M652.18 390.89H657.58" stroke="#111" stroke-width="1.07" fill="none"/>
<circle cx="654.88" cy="330.39" r="2.4" fill="#333333"/>
<circle cx="654.88" cy="333.5" r="2.4" fill="#333333"/>
<circle cx="654.88" cy="336.62" r="2.4" fill="#333333"/>
<circle cx="654.88" cy="339.73" r="2.4" fill="#333333"/>
<circle cx="654.88" cy="324.66" r="2.4" fill="#333333"/>
<rect x="649.68" y="367.43" width="10.4" height="17.97" fill="#F8766D" stroke="#333" stroke-width="1"/>
<path d="M654.88 367.43V385.4" stroke="#000" stroke-opacity="0.6" stroke-width="1.07"/>
<path d="M649.68 378.25H660.08" stroke="#1a1a1a" stroke-width="1.95"/>
<path d="M668.69 335.81V390.06M665.99 335.81H671.39M665.99 390.06H671.39" stroke="#111" stroke-width="1.07" fill="none"/>
<rect x="663.49" y="363.27" width="10.4" height="20.14" fill="#00BFC4" stroke="#333" stroke-width="1"/>
<path d="M668.69 363.27V383.4" stroke="#000" stroke-opacity="0.6" stroke-width="1.07"/>
<path d="M663.49 374.58H673.89" stroke="#1a1a1a" stroke-width="1.95"/>
<text x="591.12" y="255.5" font-size="14.67" fill="#222" text-anchor="middle">*</text>
<text x="626.23" y="255.5" font-size="14.67" fill="#222" text-anchor="middle">*</text>
<text x="661.18" y="257" font-size="14.67" fill="#222" text-anchor="middle">ns</text>
</g>
<g>
<rect x="52" y="443" width="112.6" height="154.8" fill="#EBEBEB"/>
<path d="M48.3 460.3H52" stroke="#333" stroke-width="1.07"/>
<text x="45.5" y="465.65" font-size="11.7" fill="#505050" text-anchor="end">2000</text>
<path d="M48.3 493.6H52" stroke="#333" stroke-width="1.07"/>
<text x="45.5" y="498.95" font-size="11.7" fill="#505050" text-anchor="end">1500</text>
<path d="M48.3 526.9H52" stroke="#333" stroke-width="1.07"/>
<text x="45.5" y="532.25" font-size="11.7" fill="#505050" text-anchor="end">1000</text>
<path d="M48.3 560.2H52" stroke="#333" stroke-width="1.07"/>
<text x="45.5" y="565.55" font-size="11.7" fill="#505050" text-anchor="end">500</text>
<path d="M48.3 593.4H52" stroke="#333" stroke-width="1.07"/>
<text x="45.5" y="598.75" font-size="11.7" fill="#505050" text-anchor="end">0</text>
<path d="M73.53 597.8V601" stroke="#333" stroke-width="1"/>
<text x="73.23" y="615.3" font-size="11.7" fill="#505050" text-anchor="middle">&lt;45</text>
<path d="M108.82 597.8V601" stroke="#333" stroke-width="1"/>
<text x="108.52" y="615.3" font-size="11.7" fill="#505050" text-anchor="middle">45-65</text>
<path d="M143.85 597.8V601" stroke="#333" stroke-width="1"/>
<text x="143.05" y="615.3" font-size="11.7" fill="#505050" text-anchor="middle">&gt;65</text>
<text x="108.3" y="628.9" font-size="10.6" fill="#000" text-anchor="middle">Age (year)</text>
<text transform="translate(16.2 521.6) rotate(-90)" font-size="10.5" fill="#000" text-anchor="middle">CD8+ T cell count (cells/µL)</text>
<path d="M66.98 530.48V587.9M64.28 530.48H69.68M64.28 587.9H69.68" stroke="#111" stroke-width="1.07" fill="none"/>
<path d="M66.98 504.11V530.08" stroke="#333333" stroke-width="4.4" stroke-linecap="round"/>
<circle cx="66.98" cy="495.16" r="2.4" fill="#333333"/>
<circle cx="66.98" cy="498.68" r="2.4" fill="#333333"/>
<circle cx="66.98" cy="478.61" r="2.4" fill="#333333"/>
<rect x="61.42" y="553.45" width="10.4" height="16.48" fill="#F8766D" stroke="#333" stroke-width="1"/>
<path d="M66.98 553.45V569.92" stroke="#000" stroke-opacity="0.6" stroke-width="1.07"/>
<path d="M61.42 561.77H71.82" stroke="#1a1a1a" stroke-width="1.95"/>
<path d="M81.29 520V583.24M78.59 520H83.99M78.59 583.24H83.99" stroke="#111" stroke-width="1.07" fill="none"/>
<circle cx="81.29" cy="506.81" r="2.4" fill="#333333"/>
<circle cx="81.29" cy="510.01" r="2.4" fill="#333333"/>
<circle cx="81.29" cy="513.2" r="2.4" fill="#333333"/>
<circle cx="81.29" cy="516.4" r="2.4" fill="#333333"/>
<circle cx="81.29" cy="519.6" r="2.4" fill="#333333"/>
<circle cx="81.29" cy="498.58" r="2.4" fill="#333333"/>
<circle cx="81.29" cy="492.76" r="2.4" fill="#333333"/>
<rect x="75.73" y="548.29" width="10.4" height="20.14" fill="#00BFC4" stroke="#333" stroke-width="1"/>
<path d="M81.29 548.29V568.43" stroke="#000" stroke-opacity="0.6" stroke-width="1.07"/>
<path d="M75.73 559.61H86.13" stroke="#1a1a1a" stroke-width="1.95"/>
<path d="M102.26 535.47V591.23M99.56 535.47H104.96M99.56 591.23H104.96" stroke="#111" stroke-width="1.07" fill="none"/>
<path d="M102.26 503.28V535.07" stroke="#333333" stroke-width="4.4" stroke-linecap="round"/>
<circle cx="102.26" cy="481.85" r="2.4" fill="#333333"/>
<circle cx="102.26" cy="484.68" r="2.4" fill="#333333"/>
<circle cx="102.26" cy="487.52" r="2.4" fill="#333333"/>
<circle cx="102.26" cy="490.36" r="2.4" fill="#333333"/>
<circle cx="102.26" cy="497.75" r="2.4" fill="#333333"/>
<circle cx="102.26" cy="456.98" r="2.4" fill="#333333"/>
<rect x="96.7" y="558.44" width="10.4" height="14.98" fill="#F8766D" stroke="#333" stroke-width="1"/>
<path d="M102.26 558.44V573.42" stroke="#000" stroke-opacity="0.6" stroke-width="1.07"/>
<path d="M96.7 566.6H107.1" stroke="#1a1a1a" stroke-width="1.95"/>
<path d="M116.57 534.31V586.23M113.87 534.31H119.27M113.87 586.23H119.27" stroke="#111" stroke-width="1.07" fill="none"/>
<path d="M116.57 509.94V533.91" stroke="#333333" stroke-width="4.4" stroke-linecap="round"/>
<circle cx="116.57" cy="500.15" r="2.4" fill="#333333"/>
<circle cx="116.57" cy="503.67" r="2.4" fill="#333333"/>
<circle cx="116.57" cy="483.27" r="2.4" fill="#333333"/>
<rect x="111.01" y="556.61" width="10.4" height="15.14" fill="#00BFC4" stroke="#333" stroke-width="1"/>
<path d="M116.57 556.61V571.75" stroke="#000" stroke-opacity="0.6" stroke-width="1.07"/>
<path d="M111.01 565.76H121.41" stroke="#1a1a1a" stroke-width="1.95"/>
<path d="M137.38 538.3V589.89M134.68 538.3H140.08M134.68 589.89H140.08" stroke="#111" stroke-width="1.07" fill="none"/>
<circle cx="137.38" cy="523.73" r="2.4" fill="#333333"/>
<circle cx="137.38" cy="526.56" r="2.4" fill="#333333"/>
<circle cx="137.38" cy="529.4" r="2.4" fill="#333333"/>
<circle cx="137.38" cy="532.23" r="2.4" fill="#333333"/>
<circle cx="137.38" cy="535.07" r="2.4" fill="#333333"/>
<circle cx="137.38" cy="537.9" r="2.4" fill="#333333"/>
<circle cx="137.38" cy="513.89" r="2.4" fill="#333333"/>
<circle cx="137.38" cy="508.57" r="2.4" fill="#333333"/>
<circle cx="137.38" cy="492.76" r="2.4" fill="#333333"/>
<rect x="131.82" y="561.27" width="10.4" height="16.14" fill="#F8766D" stroke="#333" stroke-width="1"/>
<path d="M137.38 561.27V577.41" stroke="#000" stroke-opacity="0.6" stroke-width="1.07"/>
<path d="M131.82 568.43H142.22" stroke="#1a1a1a" stroke-width="1.95"/>
<path d="M151.52 543.3V584.24M148.82 543.3H154.22M148.82 584.24H154.22" stroke="#111" stroke-width="1.07" fill="none"/>
<circle cx="151.52" cy="535.47" r="2.4" fill="#333333"/>
<circle cx="151.52" cy="520.5" r="2.4" fill="#333333"/>
<circle cx="151.52" cy="498.58" r="2.4" fill="#333333"/>
<rect x="145.96" y="559.27" width="10.4" height="15.31" fill="#00BFC4" stroke="#333" stroke-width="1"/>
<path d="M151.52 559.27V574.58" stroke="#000" stroke-opacity="0.6" stroke-width="1.07"/>
<path d="M145.96 569.26H156.36" stroke="#1a1a1a" stroke-width="1.95"/>
<text x="73.53" y="457" font-size="14.67" fill="#222" text-anchor="middle">****</text>
<text x="108.82" y="457" font-size="14.67" fill="#222" text-anchor="middle">****</text>
<text x="143.85" y="457.5" font-size="14.67" fill="#222" text-anchor="middle">ns</text>
</g>
<g>
<rect x="225" y="443" width="112.6" height="154.8" fill="#EBEBEB"/>
<path d="M221.3 449.9H225" stroke="#333" stroke-width="1.07"/>
<text x="218" y="454.65" font-size="11.7" fill="#505050" text-anchor="end">1500</text>
<path d="M221.3 497.9H225" stroke="#333" stroke-width="1.07"/>
<text x="218" y="502.65" font-size="11.7" fill="#505050" text-anchor="end">1000</text>
<path d="M221.3 546H225" stroke="#333" stroke-width="1.07"/>
<text x="218" y="550.75" font-size="11.7" fill="#505050" text-anchor="end">500</text>
<path d="M221.3 594H225" stroke="#333" stroke-width="1.07"/>
<text x="218" y="598.75" font-size="11.7" fill="#505050" text-anchor="end">0</text>
<path d="M246.47 597.8V601" stroke="#333" stroke-width="1"/>
<text x="246.17" y="615.3" font-size="11.7" fill="#505050" text-anchor="middle">&lt;45</text>
<path d="M281.5 597.8V601" stroke="#333" stroke-width="1"/>
<text x="281.2" y="615.3" font-size="11.7" fill="#505050" text-anchor="middle">45-65</text>
<path d="M316.78 597.8V601" stroke="#333" stroke-width="1"/>
<text x="315.98" y="615.3" font-size="11.7" fill="#505050" text-anchor="middle">&gt;65</text>
<text x="281.3" y="628.9" font-size="10.6" fill="#000" text-anchor="middle">Age (year)</text>
<text transform="translate(188.8 522.2) rotate(-90)" font-size="10.5" fill="#000" text-anchor="middle">CD8+CD28+ T cell count (cells/µL)</text>
<path d="M239.31 535.47V589.23M236.61 535.47H242.01M236.61 589.23H242.01" stroke="#111" stroke-width="1.07" fill="none"/>
<path d="M239.31 512.43V535.07" stroke="#333333" stroke-width="4.4" stroke-linecap="round"/>
<circle cx="239.31" cy="456.98" r="2.4" fill="#333333"/>
<rect x="234.56" y="556.28" width="10.4" height="15.48" fill="#F8766D" stroke="#333" stroke-width="1"/>
<path d="M239.31 556.28V571.75" stroke="#000" stroke-opacity="0.6" stroke-width="1.07"/>
<path d="M234.56 564.6H244.96" stroke="#1a1a1a" stroke-width="1.95"/>
<path d="M253.62 534.31V591.23M250.92 534.31H256.32M250.92 591.23H256.32" stroke="#111" stroke-width="1.07" fill="none"/>
<circle cx="253.62" cy="524.56" r="2.4" fill="#333333"/>
<circle cx="253.62" cy="527.68" r="2.4" fill="#333333"/>
<circle cx="253.62" cy="530.79" r="2.4" fill="#333333"/>
<circle cx="253.62" cy="533.91" r="2.4" fill="#333333"/>
<circle cx="253.62" cy="500.98" r="2.4" fill="#333333"/>
<circle cx="253.62" cy="514.3" r="2.4" fill="#333333"/>
<circle cx="253.62" cy="516.99" r="2.4" fill="#333333"/>
<circle cx="253.62" cy="518" r="2.4" fill="#333333"/>
<circle cx="253.62" cy="508.24" r="2.4" fill="#333333"/>
<rect x="248.07" y="554.28" width="10.4" height="15.64" fill="#00BFC4" stroke="#333" stroke-width="1"/>
<path d="M253.62 554.28V569.92" stroke="#000" stroke-opacity="0.6" stroke-width="1.07"/>
<path d="M248.07 562.44H258.47" stroke="#1a1a1a" stroke-width="1.95"/>
<path d="M274.43 548.79V591.23M271.73 548.79H277.13M271.73 591.23H277.13" stroke="#111" stroke-width="1.07" fill="none"/>
<path d="M274.43 521.86V548.39" stroke="#333333" stroke-width="4.4" stroke-linecap="round"/>
<circle cx="274.43" cy="513.47" r="2.4" fill="#333333"/>
<circle cx="274.43" cy="515.32" r="2.4" fill="#333333"/>
<circle cx="274.43" cy="521.05" r="2.4" fill="#333333"/>
<circle cx="274.43" cy="507.4" r="2.4" fill="#333333"/>
<circle cx="274.43" cy="494.92" r="2.4" fill="#333333"/>
<rect x="269.68" y="566.26" width="10.4" height="11.15" fill="#F8766D" stroke="#333" stroke-width="1"/>
<path d="M274.43 566.26V577.41" stroke="#000" stroke-opacity="0.6" stroke-width="1.07"/>
<path d="M269.68 572.09H280.08" stroke="#1a1a1a" stroke-width="1.95"/>
<path d="M288.57 546.62V587.9M285.87 546.62H291.27M285.87 587.9H291.27" stroke="#111" stroke-width="1.07" fill="none"/>
<circle cx="288.57" cy="537.04" r="2.4" fill="#333333"/>
<circle cx="288.57" cy="540.47" r="2.4" fill="#333333"/>
<circle cx="288.57" cy="543.89" r="2.4" fill="#333333"/>
<circle cx="288.57" cy="522.9" r="2.4" fill="#333333"/>
<circle cx="288.57" cy="525.07" r="2.4" fill="#333333"/>
<circle cx="288.57" cy="527.25" r="2.4" fill="#333333"/>
<circle cx="288.57" cy="505.14" r="2.4" fill="#333333"/>
<circle cx="288.57" cy="521.05" r="2.4" fill="#333333"/>
<circle cx="288.57" cy="513.06" r="2.4" fill="#333333"/>
<rect x="283.02" y="564.6" width="10.4" height="11.65" fill="#00BFC4" stroke="#333" stroke-width="1"/>
<path d="M288.57 564.6V576.25" stroke="#000" stroke-opacity="0.6" stroke-width="1.07"/>
<path d="M283.02 570.42H293.42" stroke="#1a1a1a" stroke-width="1.95"/>
<path d="M309.71 559.94V590.73M307.01 559.94H312.41M307.01 590.73H312.41" stroke="#111" stroke-width="1.07" fill="none"/>
<circle cx="309.71" cy="524.56" r="2.4" fill="#333333"/>
<circle cx="309.71" cy="527.11" r="2.4" fill="#333333"/>
<circle cx="309.71" cy="529.65" r="2.4" fill="#333333"/>
<circle cx="309.71" cy="532.19" r="2.4" fill="#333333"/>
<circle cx="309.71" cy="534.74" r="2.4" fill="#333333"/>
<circle cx="309.71" cy="557.35" r="2.4" fill="#333333"/>
<circle cx="309.71" cy="559.54" r="2.4" fill="#333333"/>
<rect x="304.96" y="572.59" width="10.4" height="9.82" fill="#F8766D" stroke="#333" stroke-width="1"/>
<path d="M309.71 572.59V582.41" stroke="#000" stroke-opacity="0.6" stroke-width="1.07"/>
<path d="M304.96 576.58H315.36" stroke="#1a1a1a" stroke-width="1.95"/>
<path d="M323.85 566.26V586.73M321.15 566.26H326.55M321.15 586.73H326.55" stroke="#111" stroke-width="1.07" fill="none"/>
<circle cx="323.85" cy="563.27" r="2.4" fill="#333333"/>
<circle cx="323.85" cy="557.94" r="2.4" fill="#333333"/>
<circle cx="323.85" cy="553.45" r="2.4" fill="#333333"/>
<circle cx="323.85" cy="547.46" r="2.4" fill="#333333"/>
<rect x="318.3" y="572.59" width="10.4" height="7.82" fill="#00BFC4" stroke="#333" stroke-width="1"/>
<path d="M323.85 572.59V580.41" stroke="#000" stroke-opacity="0.6" stroke-width="1.07"/>
<path d="M318.3 575.75H328.7" stroke="#1a1a1a" stroke-width="1.95"/>
<text x="246.37" y="457" font-size="14.67" fill="#222" text-anchor="middle">***</text>
<text x="281.4" y="457" font-size="14.67" fill="#222" text-anchor="middle">***</text>
<text x="316.18" y="457.5" font-size="14.67" fill="#222" text-anchor="middle">ns</text>
</g>
<g>
<rect x="397.6" y="443" width="112.2" height="154.8" fill="#EBEBEB"/>
<path d="M393.9 458.7H397.6" stroke="#333" stroke-width="1.07"/>
<text x="390.5" y="463.45" font-size="11.7" fill="#505050" text-anchor="end">1500</text>
<path d="M393.9 503.5H397.6" stroke="#333" stroke-width="1.07"/>
<text x="390.5" y="508.25" font-size="11.7" fill="#505050" text-anchor="end">1000</text>
<path d="M393.9 548.2H397.6" stroke="#333" stroke-width="1.07"/>
<text x="390.5" y="552.95" font-size="11.7" fill="#505050" text-anchor="end">500</text>
<path d="M393.9 592.9H397.6" stroke="#333" stroke-width="1.07"/>
<text x="390.5" y="597.65" font-size="11.7" fill="#505050" text-anchor="end">0</text>
<path d="M418.72 597.8V601" stroke="#333" stroke-width="1"/>
<text x="418.42" y="615.3" font-size="11.7" fill="#505050" text-anchor="middle">&lt;45</text>
<path d="M453.83 597.8V601" stroke="#333" stroke-width="1"/>
<text x="453.53" y="615.3" font-size="11.7" fill="#505050" text-anchor="middle">45-65</text>
<path d="M489.12 597.8V601" stroke="#333" stroke-width="1"/>
<text x="488.32" y="615.3" font-size="11.7" fill="#505050" text-anchor="middle">&gt;65</text>
<text x="453.7" y="628.9" font-size="10.6" fill="#000" text-anchor="middle">Age (year)</text>
<text transform="translate(361.3 521.6) rotate(-90)" font-size="10.5" fill="#000" text-anchor="middle">CD8+DR+ T cell count (cells/µL)</text>
<path d="M411.65 562.6V591.23M408.95 562.6H414.35M408.95 591.23H414.35" stroke="#111" stroke-width="1.07" fill="none"/>
<path d="M411.65 538.17V562.2" stroke="#333333" stroke-width="4.4" stroke-linecap="round"/>
<circle cx="411.65" cy="524.56" r="2.4" fill="#333333"/>
<circle cx="411.65" cy="527.15" r="2.4" fill="#333333"/>
<circle cx="411.65" cy="529.75" r="2.4" fill="#333333"/>
<rect x="406.82" y="576.58" width="10.4" height="9.65" fill="#F8766D" stroke="#333" stroke-width="1"/>
<path d="M411.65 576.58V586.23" stroke="#000" stroke-opacity="0.6" stroke-width="1.07"/>
<path d="M406.82 581.24H417.22" stroke="#1a1a1a" stroke-width="1.95"/>
<path d="M425.79 554.61V591.23M423.09 554.61H428.49M423.09 591.23H428.49" stroke="#111" stroke-width="1.07" fill="none"/>
<circle cx="425.79" cy="543.7" r="2.4" fill="#333333"/>
<circle cx="425.79" cy="546.33" r="2.4" fill="#333333"/>
<circle cx="425.79" cy="548.96" r="2.4" fill="#333333"/>
<circle cx="425.79" cy="551.58" r="2.4" fill="#333333"/>
<circle cx="425.79" cy="554.21" r="2.4" fill="#333333"/>
<circle cx="425.79" cy="528.72" r="2.4" fill="#333333"/>
<circle cx="425.79" cy="530.9" r="2.4" fill="#333333"/>
<circle cx="425.79" cy="533.07" r="2.4" fill="#333333"/>
<circle cx="425.79" cy="522.99" r="2.4" fill="#333333"/>
<circle cx="425.79" cy="521.55" r="2.4" fill="#333333"/>
<rect x="420.96" y="572.59" width="10.4" height="12.48" fill="#00BFC4" stroke="#333" stroke-width="1"/>
<path d="M425.79 572.59V585.07" stroke="#000" stroke-opacity="0.6" stroke-width="1.07"/>
<path d="M420.96 579.24H431.36" stroke="#1a1a1a" stroke-width="1.95"/>
<path d="M446.59 558.44V591.23M443.89 558.44H449.29M443.89 591.23H449.29" stroke="#111" stroke-width="1.07" fill="none"/>
<path d="M446.59 520.2V558.04" stroke="#333333" stroke-width="4.4" stroke-linecap="round"/>
<circle cx="446.59" cy="502.65" r="2.4" fill="#333333"/>
<circle cx="446.59" cy="504.82" r="2.4" fill="#333333"/>
<circle cx="446.59" cy="507" r="2.4" fill="#333333"/>
<circle cx="446.59" cy="517.72" r="2.4" fill="#333333"/>
<circle cx="446.59" cy="474.95" r="2.4" fill="#333333"/>
<circle cx="446.59" cy="456.98" r="2.4" fill="#333333"/>
<rect x="441.76" y="573.75" width="10.4" height="11.65" fill="#F8766D" stroke="#333" stroke-width="1"/>
<path d="M446.59 573.75V585.4" stroke="#000" stroke-opacity="0.6" stroke-width="1.07"/>
<path d="M441.76 579.58H452.16" stroke="#1a1a1a" stroke-width="1.95"/>
<path d="M461.07 554.95V590.73M458.37 554.95H463.77M458.37 590.73H463.77" stroke="#111" stroke-width="1.07" fill="none"/>
<circle cx="461.07" cy="539.04" r="2.4" fill="#333333"/>
<circle cx="461.07" cy="542.14" r="2.4" fill="#333333"/>
<circle cx="461.07" cy="545.24" r="2.4" fill="#333333"/>
<circle cx="461.07" cy="548.34" r="2.4" fill="#333333"/>
<circle cx="461.07" cy="551.44" r="2.4" fill="#333333"/>
<circle cx="461.07" cy="554.55" r="2.4" fill="#333333"/>
<circle cx="461.07" cy="532.05" r="2.4" fill="#333333"/>
<circle cx="461.07" cy="520.4" r="2.4" fill="#333333"/>
<circle cx="461.07" cy="522.58" r="2.4" fill="#333333"/>
<circle cx="461.07" cy="524.75" r="2.4" fill="#333333"/>
<circle cx="461.07" cy="519.39" r="2.4" fill="#333333"/>
<circle cx="461.07" cy="494.09" r="2.4" fill="#333333"/>
<rect x="456.24" y="571.75" width="10.4" height="11.65" fill="#00BFC4" stroke="#333" stroke-width="1"/>
<path d="M461.07 571.75V583.4" stroke="#000" stroke-opacity="0.6" stroke-width="1.07"/>
<path d="M456.24 577.58H466.64" stroke="#1a1a1a" stroke-width="1.95"/>
<path d="M481.88 555.78V590.73M479.18 555.78H484.58M479.18 590.73H484.58" stroke="#111" stroke-width="1.07" fill="none"/>
<circle cx="481.88" cy="543.7" r="2.4" fill="#333333"/>
<circle cx="481.88" cy="547.22" r="2.4" fill="#333333"/>
<circle cx="481.88" cy="537.64" r="2.4" fill="#333333"/>
<circle cx="481.88" cy="527.15" r="2.4" fill="#333333"/>
<circle cx="481.88" cy="517.72" r="2.4" fill="#333333"/>
<rect x="477.05" y="572.09" width="10.4" height="13.31" fill="#F8766D" stroke="#333" stroke-width="1"/>
<path d="M481.88 572.09V585.4" stroke="#000" stroke-opacity="0.6" stroke-width="1.07"/>
<path d="M477.05 578.74H487.45" stroke="#1a1a1a" stroke-width="1.95"/>
<path d="M496.35 558.44V589.89M493.65 558.44H499.05M493.65 589.89H499.05" stroke="#111" stroke-width="1.07" fill="none"/>
<circle cx="496.35" cy="535.38" r="2.4" fill="#333333"/>
<circle cx="496.35" cy="538.66" r="2.4" fill="#333333"/>
<circle cx="496.35" cy="541.94" r="2.4" fill="#333333"/>
<circle cx="496.35" cy="545.22" r="2.4" fill="#333333"/>
<rect x="491.52" y="569.26" width="10.4" height="13.15" fill="#00BFC4" stroke="#333" stroke-width="1"/>
<path d="M496.35 569.26V582.41" stroke="#000" stroke-opacity="0.6" stroke-width="1.07"/>
<path d="M491.52 575.75H501.92" stroke="#1a1a1a" stroke-width="1.95"/>
<text x="418.62" y="457" font-size="14.67" fill="#222" text-anchor="middle">****</text>
<text x="453.73" y="457" font-size="14.67" fill="#222" text-anchor="middle">****</text>
<text x="488.92" y="457.5" font-size="14.67" fill="#222" text-anchor="middle">ns</text>
</g>
<g>
<rect x="563.2" y="443" width="118.6" height="154.8" fill="#EBEBEB"/>
<path d="M559.5 477.3H563.2" stroke="#333" stroke-width="1.07"/>
<text x="556.9" y="482.05" font-size="11.7" fill="#505050" text-anchor="end">750</text>
<path d="M559.5 515.6H563.2" stroke="#333" stroke-width="1.07"/>
<text x="556.9" y="520.35" font-size="11.7" fill="#505050" text-anchor="end">500</text>
<path d="M559.5 553.9H563.2" stroke="#333" stroke-width="1.07"/>
<text x="556.9" y="558.65" font-size="11.7" fill="#505050" text-anchor="end">250</text>
<path d="M559.5 592.2H563.2" stroke="#333" stroke-width="1.07"/>
<text x="556.9" y="596.95" font-size="11.7" fill="#505050" text-anchor="end">0</text>
<path d="M586.36 597.8V601" stroke="#333" stroke-width="1"/>
<text x="586.06" y="615.3" font-size="11.7" fill="#505050" text-anchor="middle">&lt;45</text>
<path d="M623.56 597.8V601" stroke="#333" stroke-width="1"/>
<text x="623.26" y="615.3" font-size="11.7" fill="#505050" text-anchor="middle">45-65</text>
<path d="M660.83 597.8V601" stroke="#333" stroke-width="1"/>
<text x="660.03" y="615.3" font-size="11.7" fill="#505050" text-anchor="middle">&gt;65</text>
<text x="622.5" y="628.9" font-size="10.6" fill="#000" text-anchor="middle">Age (year)</text>
<text transform="translate(533.2 521.6) rotate(-90)" font-size="10.5" fill="#000" text-anchor="middle">CD8+CD38+ T cell count (cells/µL)</text>
<path d="M578.82 528.32V587.9M576.12 528.32H581.52M576.12 587.9H581.52" stroke="#111" stroke-width="1.07" fill="none"/>
<path d="M578.82 506.61V527.92" stroke="#333333" stroke-width="4.4" stroke-linecap="round"/>
<circle cx="578.82" cy="495.99" r="2.4" fill="#333333"/>
<circle cx="578.82" cy="498.58" r="2.4" fill="#333333"/>
<circle cx="578.82" cy="501.18" r="2.4" fill="#333333"/>
<circle cx="578.82" cy="478.52" r="2.4" fill="#333333"/>
<circle cx="578.82" cy="481.11" r="2.4" fill="#333333"/>
<circle cx="578.82" cy="483.7" r="2.4" fill="#333333"/>
<rect x="573.32" y="556.28" width="11" height="18.31" fill="#F8766D" stroke="#333" stroke-width="1"/>
<path d="M578.82 556.28V574.58" stroke="#000" stroke-opacity="0.6" stroke-width="1.07"/>
<path d="M573.32 565.93H584.32" stroke="#1a1a1a" stroke-width="1.95"/>
<path d="M593.3 528.32V589.89M590.6 528.32H596M590.6 589.89H596" stroke="#111" stroke-width="1.07" fill="none"/>
<circle cx="593.3" cy="516.79" r="2.4" fill="#333333"/>
<circle cx="593.3" cy="519.58" r="2.4" fill="#333333"/>
<circle cx="593.3" cy="522.36" r="2.4" fill="#333333"/>
<circle cx="593.3" cy="525.14" r="2.4" fill="#333333"/>
<circle cx="593.3" cy="527.92" r="2.4" fill="#333333"/>
<circle cx="593.3" cy="508.47" r="2.4" fill="#333333"/>
<circle cx="593.3" cy="511.16" r="2.4" fill="#333333"/>
<circle cx="593.3" cy="500.58" r="2.4" fill="#333333"/>
<circle cx="593.3" cy="479.78" r="2.4" fill="#333333"/>
<circle cx="593.3" cy="460.31" r="2.4" fill="#333333"/>
<rect x="588.3" y="555.45" width="11" height="18.81" fill="#00BFC4" stroke="#333" stroke-width="1"/>
<path d="M593.3 555.45V574.25" stroke="#000" stroke-opacity="0.6" stroke-width="1.07"/>
<path d="M588.3 567.09H599.3" stroke="#1a1a1a" stroke-width="1.95"/>
<path d="M616.1 549.62V591.23M613.4 549.62H618.8M613.4 591.23H618.8" stroke="#111" stroke-width="1.07" fill="none"/>
<path d="M616.1 518.26V549.22" stroke="#333333" stroke-width="4.4" stroke-linecap="round"/>
<circle cx="616.1" cy="514.39" r="2.4" fill="#333333"/>
<circle cx="616.1" cy="508.57" r="2.4" fill="#333333"/>
<circle cx="616.1" cy="488.1" r="2.4" fill="#333333"/>
<circle cx="616.1" cy="480.61" r="2.4" fill="#333333"/>
<circle cx="616.1" cy="471.96" r="2.4" fill="#333333"/>
<circle cx="616.1" cy="457.31" r="2.4" fill="#333333"/>
<rect x="610.6" y="569.26" width="11" height="11.98" fill="#F8766D" stroke="#333" stroke-width="1"/>
<path d="M616.1 569.26V581.24" stroke="#000" stroke-opacity="0.6" stroke-width="1.07"/>
<path d="M610.6 575.92H621.6" stroke="#1a1a1a" stroke-width="1.95"/>
<path d="M630.41 548.46V590.73M627.71 548.46H633.11M627.71 590.73H633.11" stroke="#111" stroke-width="1.07" fill="none"/>
<path d="M630.41 525.19V548.06" stroke="#333333" stroke-width="4.4" stroke-linecap="round"/>
<circle cx="630.41" cy="516.79" r="2.4" fill="#333333"/>
<circle cx="630.41" cy="519.65" r="2.4" fill="#333333"/>
<circle cx="630.41" cy="519.33" r="2.4" fill="#333333"/>
<circle cx="630.41" cy="504.41" r="2.4" fill="#333333"/>
<rect x="625.41" y="567.93" width="11" height="12.48" fill="#00BFC4" stroke="#333" stroke-width="1"/>
<path d="M630.41 567.93V580.41" stroke="#000" stroke-opacity="0.6" stroke-width="1.07"/>
<path d="M625.41 575.08H636.41" stroke="#1a1a1a" stroke-width="1.95"/>
<path d="M652.88 557.11V590.73M650.18 557.11H655.58M650.18 590.73H655.58" stroke="#111" stroke-width="1.07" fill="none"/>
<circle cx="652.88" cy="549.52" r="2.4" fill="#333333"/>
<circle cx="652.88" cy="553.12" r="2.4" fill="#333333"/>
<circle cx="652.88" cy="556.71" r="2.4" fill="#333333"/>
<circle cx="652.88" cy="539.3" r="2.4" fill="#333333"/>
<circle cx="652.88" cy="502.41" r="2.4" fill="#333333"/>
<rect x="647.38" y="572.59" width="11" height="11.65" fill="#F8766D" stroke="#333" stroke-width="1"/>
<path d="M652.88 572.59V584.24" stroke="#000" stroke-opacity="0.6" stroke-width="1.07"/>
<path d="M647.38 578.74H658.38" stroke="#1a1a1a" stroke-width="1.95"/>
<path d="M668.19 557.61V589.23M665.49 557.61H670.89M665.49 589.23H670.89" stroke="#111" stroke-width="1.07" fill="none"/>
<circle cx="668.19" cy="549.52" r="2.4" fill="#333333"/>
<circle cx="668.19" cy="551.38" r="2.4" fill="#333333"/>
<circle cx="668.19" cy="514.73" r="2.4" fill="#333333"/>
<circle cx="668.19" cy="506.07" r="2.4" fill="#333333"/>
<rect x="663.19" y="571.75" width="11" height="11.65" fill="#00BFC4" stroke="#333" stroke-width="1"/>
<path d="M668.19 571.75V583.4" stroke="#000" stroke-opacity="0.6" stroke-width="1.07"/>
<path d="M663.19 579.08H674.19" stroke="#1a1a1a" stroke-width="1.95"/>
<text x="586.26" y="457.5" font-size="14.67" fill="#222" text-anchor="middle">ns</text>
<text x="623.46" y="457" font-size="14.67" fill="#222" text-anchor="middle">*</text>
<text x="660.73" y="457.5" font-size="14.67" fill="#222" text-anchor="middle">ns</text>
</g>
</svg>
</body></html>
